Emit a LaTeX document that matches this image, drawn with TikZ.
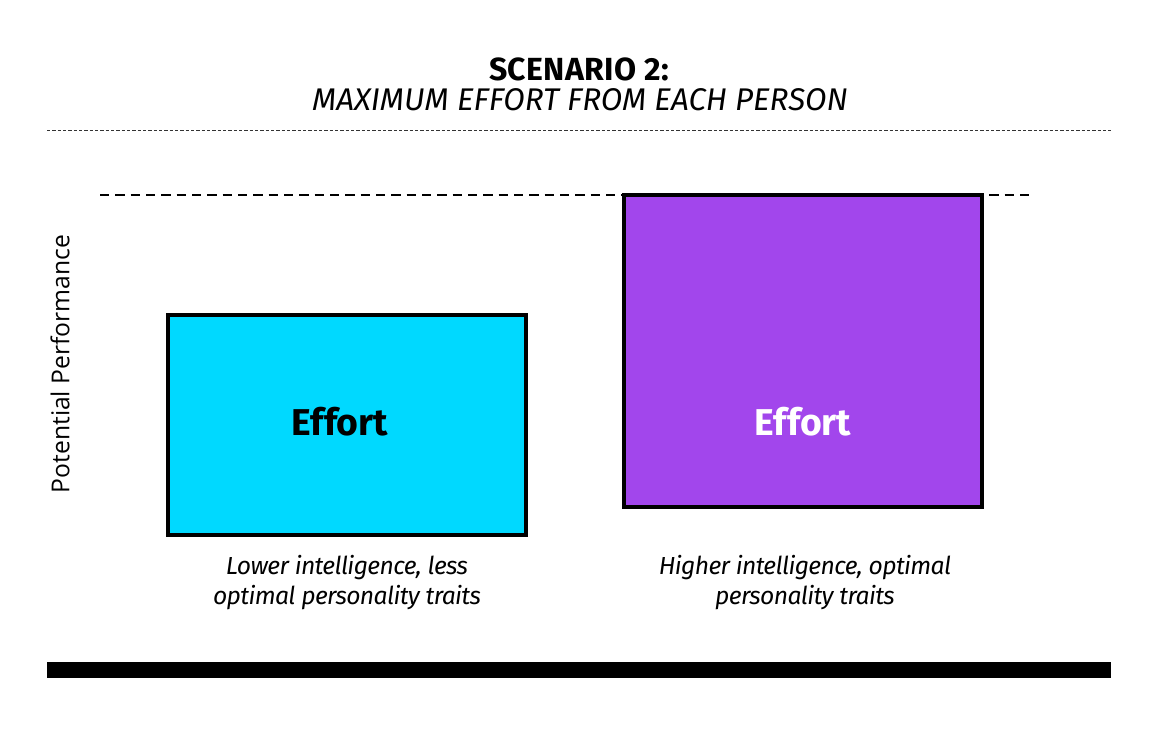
\documentclass[tikz,border=0pt]{standalone}
\usepackage{fontspec}
\setmainfont{Fira Sans}
\newfontfamily\axisfont{Open Sans}
\definecolor{cyanbox}{HTML}{00D9FF}
\definecolor{purplebox}{HTML}{A246EC}
\begin{document}
\begin{tikzpicture}[x=0.75pt,y=-0.75pt,
  bar/.style={draw=black,line width=2.6pt},
  caption/.style={font=\fontsize{18.5}{22.5}\selectfont\itshape\addfontfeatures{LetterSpace=-2.5}, align=center, anchor=north},
  efflabel/.style={font=\fontsize{28}{30}\selectfont\bfseries}]
\useasboundingbox (0,0) rectangle (1167,742);
% title
\node[font=\fontsize{24}{28}\selectfont\bfseries\addfontfeatures{LetterSpace=1}] (t1) at (579,69) {SCENARIO 2:};
\node[font=\fontsize{23.5}{28}\selectfont\itshape] (t2) at (580,100) {MAXIMUM EFFORT FROM EACH PERSON};
% thin dashed rule
\coordinate (r1a) at (47,130); \coordinate (r1b) at (1111,130);
\draw[black!80,line width=0.6pt,dash pattern=on 2.5pt off 1.5pt] (r1a) -- (r1b);
% bars
\node[bar,fill=cyanbox,minimum width=358*0.75pt,minimum height=220*0.75pt,inner sep=0pt] (b1) at (347,425) {};
\node[bar,fill=purplebox,minimum width=358*0.75pt,minimum height=312*0.75pt,inner sep=0pt] (b2) at (803,351) {};
\node[efflabel,text=black] (e1) at (340,422) {Effort};
\node[efflabel,text=white] (e2) at (803,422) {Effort};
% potential line
\coordinate (pa) at (100,195); \coordinate (pb) at (1033,195);
\draw[black,line width=2pt,dash pattern=on 7pt off 4.5pt] (pa) -- (pb);
% axis label
\node[font=\axisfont\fontsize{18.5}{22}\selectfont,rotate=90] (ax) at (60,364) {Potential Performance};
% captions
\node[caption] (c1) at (347,551) {Lower intelligence, less\\optimal personality traits};
\node[caption] (c2) at (805,551) {Higher intelligence, optimal\\personality traits};
% bottom bar
\fill[black] (47,662) rectangle (1111,678);
\end{tikzpicture}
\end{document}
